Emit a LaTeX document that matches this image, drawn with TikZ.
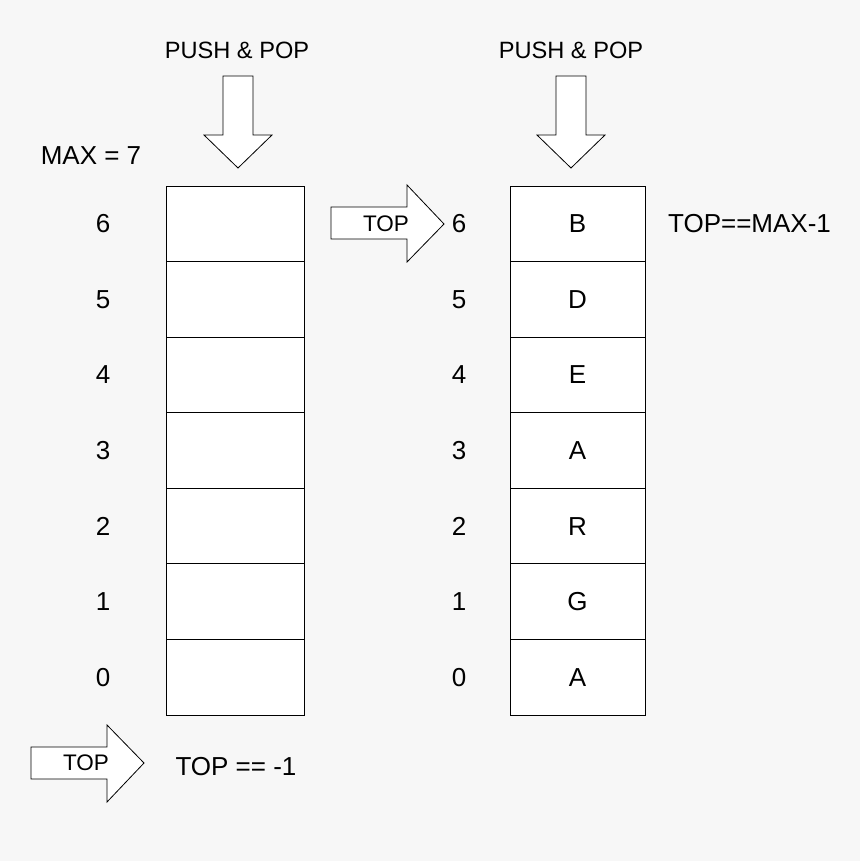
\documentclass[tikz,border=0pt]{standalone}
\usepackage{fontspec}
\setmainfont{Liberation Sans}
\definecolor{bgcol}{HTML}{F7F7F7}
\begin{document}
\begin{tikzpicture}[x=1pt,y=-1pt,
  cell/.style={draw=black,fill=white,line width=0.8pt,minimum height=75.57pt,inner sep=0pt},
  lbl/.style={font=\fontsize{26}{30}\selectfont,inner sep=0pt},
  toplbl/.style={font=\fontsize{22.5}{26}\selectfont,inner sep=0pt},
  pushlbl/.style={font=\fontsize{23.6}{27}\selectfont,inner sep=0pt},
  arrowshape/.style={draw=black,fill=white,line width=0.8pt,line join=miter}]
\useasboundingbox[fill=bgcol] (0,0) rectangle (860,861);
% down arrows
\draw[arrowshape] (223,76) -- (253,76) -- (253,135) -- (272,135) -- (238,168) -- (204,135) -- (223,135) -- cycle;
\draw[arrowshape] (556,76) -- (586,76) -- (586,135) -- (605,135) -- (571,168) -- (537,135) -- (556,135) -- cycle;
\node[pushlbl] (pp1) at (237,50) {PUSH \& POP};
\node[pushlbl] (pp2) at (571,50) {PUSH \& POP};
\node[lbl] (max) at (91,156) {MAX = 7};
% stacks
\foreach \i/\c in {6/B,5/D,4/E,3/A,2/R,1/G,0/A}{
  \pgfmathsetmacro{\yy}{186+(6-\i+0.5)*75.57}
  \node[cell,minimum width=138pt] (L\i) at (235,\yy) {};
  \node[cell,minimum width=135pt,lbl] (R\i) at (577.5,\yy) {\c};
  \node[lbl] (ln\i) at (103,\yy) {\i};
  \node[lbl] (rn\i) at (459,\yy) {\i};
}
% right TOP arrow
\draw[arrowshape] (331,207) -- (407,207) -- (407,185) -- (444,224) -- (407,262) -- (407,239) -- (331,239) -- cycle;
\node[toplbl] (top1) at (386,224) {TOP};
\node[lbl] (cond1) at (749.5,224) {TOP==MAX-1};
% bottom TOP arrow
\draw[arrowshape] (31,747) -- (107,747) -- (107,725) -- (144,763) -- (107,802) -- (107,779) -- (31,779) -- cycle;
\node[toplbl] (top2) at (86,763) {TOP};
\node[lbl] (cond2) at (236,767) {TOP == -1};
\end{tikzpicture}
\end{document}
